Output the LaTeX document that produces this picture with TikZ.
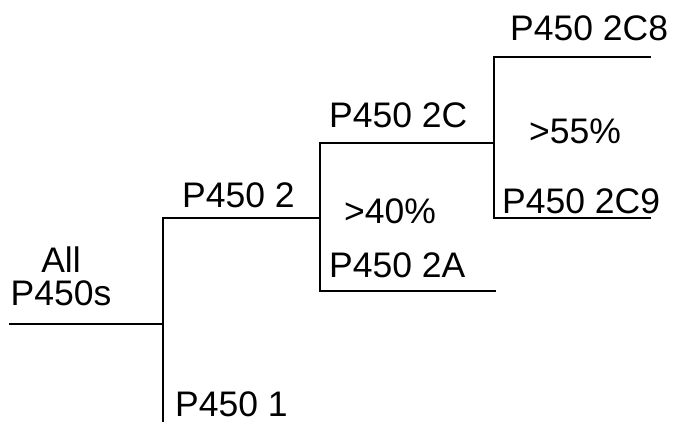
\documentclass[tikz,border=0pt]{standalone}
\usepackage{fontspec}
\setmainfont{Liberation Sans}
\begin{document}
\begin{tikzpicture}[x=1pt,y=-1pt,
  br/.style={line width=1.7pt,line cap=rect},
  lab/.style={anchor=base west,inner sep=0pt,font=\fontsize{35.5}{33}\selectfont}]
\useasboundingbox (0,0) rectangle (676,421);
\fill[white] (0,0) rectangle (676,421);
% junctions
\coordinate (root) at (10,324);
\coordinate (j1) at (163,324);
\coordinate (j1t) at (163,218);
\coordinate (j1b) at (163,421);
\coordinate (j2) at (320,218);
\coordinate (j2t) at (320,143);
\coordinate (j2b) at (320,291);
\coordinate (e2a) at (495,291);
\coordinate (j3) at (494,143);
\coordinate (j3t) at (494,57);
\coordinate (j3b) at (494,218);
\coordinate (e2c8) at (650,57);
\coordinate (e2c9) at (650,218);
% branches
\draw[br] (root) -- (j1);
\draw[br] (j1b) -- (j1t) -- (j2);
\draw[br] (j2t) -- (j2b) -- (e2a);
\draw[br] (j2t) -- (j3);
\draw[br] (j3b) -- (j3t) -- (e2c8);
\draw[br] (j3b) -- (e2c9);
% labels
\node[inner sep=0pt,align=center,font=\fontsize{35.5}{33}\selectfont,anchor=base] (all) at (61,305) {All\\P450s};
\node[lab] (p2) at (182,207) {P450 2};
\node[lab] (p2c) at (329,127) {P450 2C};
\node[lab] (p40) at (344,223) {>40\%};
\node[lab] (p2a) at (329,277) {P450 2A};
\node[lab] (p2c8) at (510,40) {P450 2C8};
\node[lab] (p55) at (529,143) {>55\%};
\node[lab] (p2c9) at (502,213) {P450 2C9};
\node[lab] (p1) at (175,416) {P450 1};
\end{tikzpicture}
\end{document}
